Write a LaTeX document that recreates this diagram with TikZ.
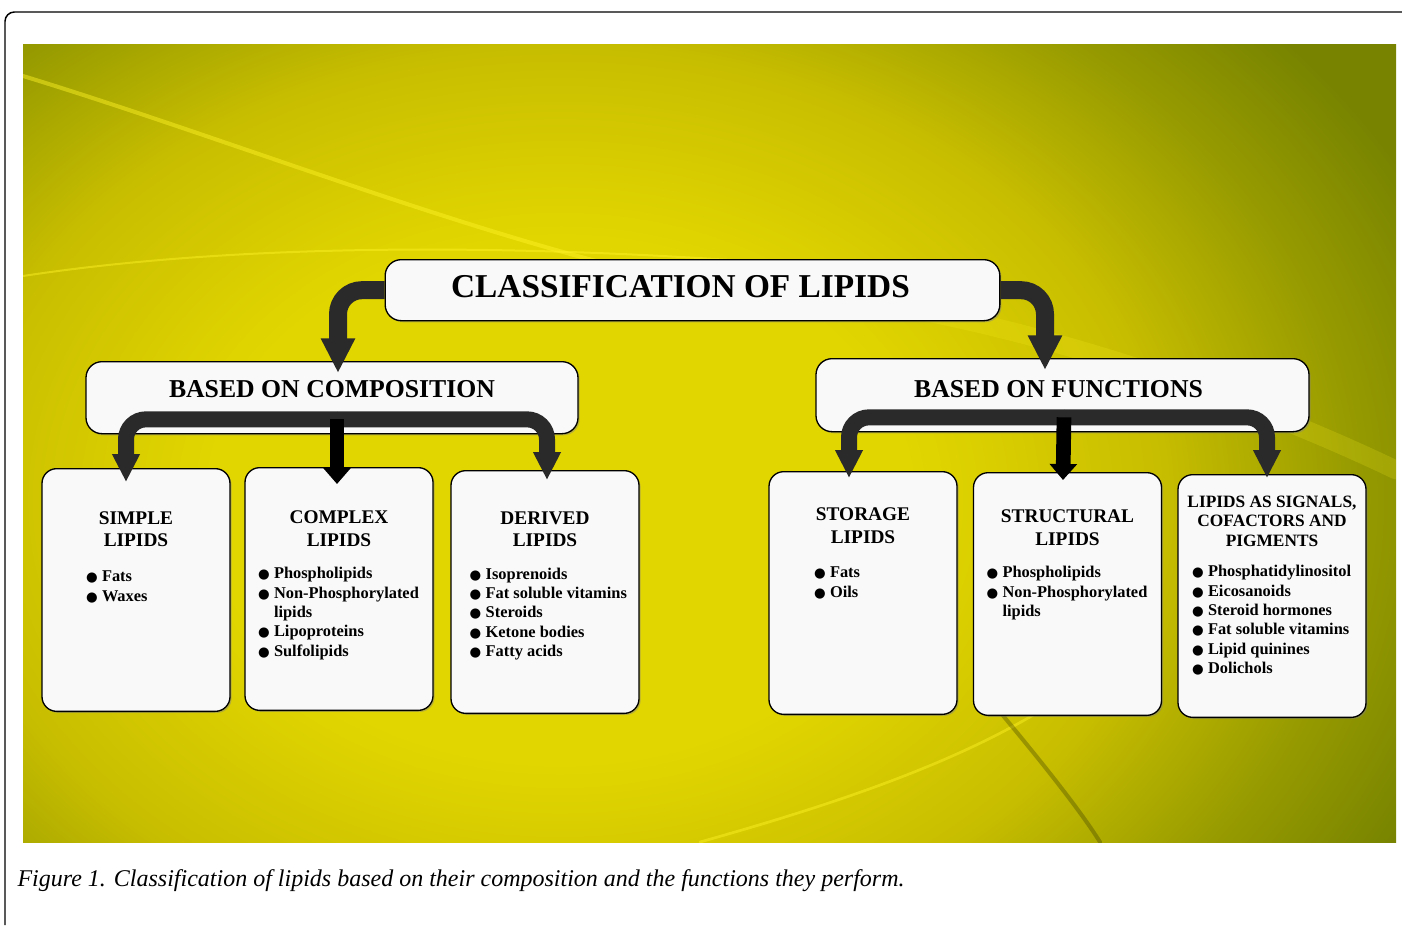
\documentclass[tikz,border=0pt]{standalone}
\usepackage{fontspec}
\setmainfont{Liberation Serif}
\newfontfamily\dotfont{DejaVu Sans}
\usetikzlibrary{arrows.meta,calc,shadows}

\definecolor{bgyellow}{RGB}{226,214,0}
\definecolor{bgmid}{RGB}{200,190,0}
\definecolor{bgolive}{RGB}{150,154,0}
\definecolor{bgdark}{RGB}{120,132,0}
\definecolor{arrowgray}{RGB}{42,42,42}
\definecolor{cardfill}{RGB}{249,249,249}

% background glow, radii in tenths of a pixel
\pgfdeclareradialshading{lipidbg}{\pgfpoint{0bp}{0bp}}{color(0bp)=(bgyellow); color(35bp)=(bgyellow); color(60bp)=(bgmid); color(80bp)=(bgolive); color(95bp)=(bgdark); color(120bp)=(bgdark)}

% one bullet line of a card
\newcommand{\itm}[1]{\par\hangindent=12pt\hangafter=1\noindent\makebox[12pt][l]{\dotfont\fontsize{10}{10}\selectfont ●}#1}
% card body: {title}{title height}{list indent}{items}
\newcommand{\cardtext}[4]{%
  \begin{minipage}[c][182pt][t]{141pt}
  \fontsize{14.5}{17}\selectfont\bfseries
  \vbox to #2{\vfill\centering #1\par}
  \vspace{9.9pt}
  \fontsize{12.3}{14.5}\selectfont\raggedright\leftskip=#3
  #4
  \end{minipage}}

\tikzset{every picture/.style={line width=0.75pt}}
\tikzset{
  headbox/.style={draw=black, line width=1pt, fill=cardfill, rounded corners=12pt,
    inner sep=0pt, anchor=north, font=\bfseries,
    drop shadow={shadow xshift=1.2pt, shadow yshift=-1.2pt, opacity=0.45}},
  cardbox/.style={draw=black, line width=1pt, fill=cardfill, rounded corners=11pt,
    inner sep=0pt, anchor=north,
    drop shadow={shadow xshift=1.2pt, shadow yshift=-1.2pt, opacity=0.45}},
  bigarrow/.style={draw=arrowgray, line width=13.5pt, rounded corners=18pt,
    -{Triangle[width=24pt,length=26pt]}},
  branch/.style={draw=arrowgray, line width=12pt, rounded corners=15pt,
    -{Triangle[width=19.5pt,length=21pt]}},
  stem/.style={draw=black, line width=11pt, -{Triangle[width=20pt,length=12pt]}},
  streak/.style={draw=yellow!85!white, opacity=0.45, line cap=round},
  darkstreak/.style={draw=black!60!bgolive, opacity=0.35, line cap=round}
}

\begin{document}
\begin{tikzpicture}[x=0.75pt,y=0.75pt,yscale=-1,xscale=1]
	\useasboundingbox (0,0) rectangle (1402,925);

	%Frame
	\draw [line width=1.1pt, rounded corners=7pt] (5,925) -- (5,12) -- (1402,12) ;
	%Background
	\begin{scope}
	\clip (23,44) rectangle (1396,842) ;
	\node [inner sep=0pt, xscale=7.47, yscale=5.6, transform shape] (glow) at (560,500) {\pgfuseshading{lipidbg}};
	\draw [streak, line width=3pt] (23,76) .. controls (200,130) and (420,215) .. (600,262) ;
	\draw [streak, line width=1.5pt] (23,276) .. controls (180,252) and (420,238) .. (760,262) ;
	\draw [streak, line width=2pt] (700,842) .. controls (850,800) and (960,760) .. (1045,708) ;
	\draw [darkstreak, line width=3pt] (1000,712) .. controls (1040,760) and (1080,810) .. (1100,842) ;
	\draw [streak, line width=14pt, opacity=0.18] (860,300) .. controls (1050,330) and (1250,400) .. (1396,470) ;
	\end{scope}

	% Header Nodes
	\node [headbox, minimum width=461pt, text height=28.5pt, text depth=17.25pt,
	  font=\bfseries\fontsize{25}{30}\selectfont] (title) at (692.5,259) {CLASSIFICATION OF LIPIDS\hspace*{18pt}};
	\node [headbox, minimum width=369pt, text height=26.6pt, text depth=27.4pt,
	  font=\bfseries\fontsize{19.3}{23}\selectfont] (comp) at (332,361) {BASED ON COMPOSITION};
	\node [headbox, minimum width=369.75pt, text height=28.9pt, text depth=25.85pt,
	  font=\bfseries\fontsize{19.3}{23}\selectfont] (func) at (1062.5,358) {BASED ON FUNCTIONS\hspace*{6pt}};

	% Card Nodes
	\node [cardbox] (simple) at (136,468) {\cardtext{SIMPLE\\LIPIDS}{58.5pt}{33pt}{%
	  \vspace{2pt}\itm{Fats}\itm{Waxes}}};
	\node [cardbox] (complex) at (339,467) {\cardtext{COMPLEX\\LIPIDS}{59pt}{9.75pt}{%
	  \itm{Phospholipids}\itm{Non-Phosphorylated\newline lipids}\itm{Lipoproteins}\itm{Sulfolipids}}};
	\node [cardbox] (derived) at (545,470) {\cardtext{DERIVED\\LIPIDS}{57pt}{14pt}{%
	  \itm{Isoprenoids}\itm{Fat soluble vitamins}\itm{Steroids}\itm{Ketone bodies}\itm{Fatty acids}}};
	\node [cardbox] (storage) at (863,471) {\cardtext{STORAGE\\LIPIDS}{53.75pt}{33.75pt}{%
	  \vspace{1.5pt}\itm{Fats}\itm{Oils}}};
	\node [cardbox] (struct) at (1067.5,472) {\cardtext{STRUCTURAL\\LIPIDS}{54.5pt}{9.75pt}{%
	  \itm{Phospholipids}\itm{Non-Phosphorylated\newline lipids}}};
	\node [cardbox] (signal) at (1272,474) {\cardtext{\fontsize{13}{14.6}\selectfont
	  LIPIDS AS SIGNALS,\\COFACTORS AND\\PIGMENTS}{53.75pt}{10.5pt}{%
	  \vspace{-1.5pt}\itm{Phosphatidylinositol}\itm{Eicosanoids}\itm{Steroid hormones}\itm{Fat soluble vitamins}\itm{Lipid quinines}\itm{Dolichols}}};

	%Arrows from title
	\draw [bigarrow] (title.west) -| ($(comp.north)+(6,12)$) ;
	\draw [bigarrow] (title.east) -| ($(func.north)+(-17.5,12)$) ;

	%Composition branches
	\coordinate (cbar) at ($(comp.south)+(5,-15)$) ;
	\draw [branch] (cbar) -| ($(simple.north)+(-10,14)$) ;
	\draw [branch] (cbar) -| ($(derived.north)+(2,10)$) ;
	\draw [stem] (cbar) -- ($(complex.north)+(-2,17)$) ;

	%Function branches
	\coordinate (fbar) at ($(func.south)+(1.5,-15)$) ;
	\draw [branch] (fbar) -| ($(storage.north)+(-14,7)$) ;
	\draw [branch] (fbar) -| ($(signal.north)+(-5,4)$) ;
	\draw [stem] (fbar) -- ($(struct.north)+(-4.5,8)$) ;

	% Text Node
	\node [anchor=west, inner sep=0pt, font=\itshape\fontsize{18}{22}\selectfont] (caption) at (17,881)
	  {Figure 1. Classification of lipids based on their composition and the functions they perform.};

\end{tikzpicture}
\end{document}
